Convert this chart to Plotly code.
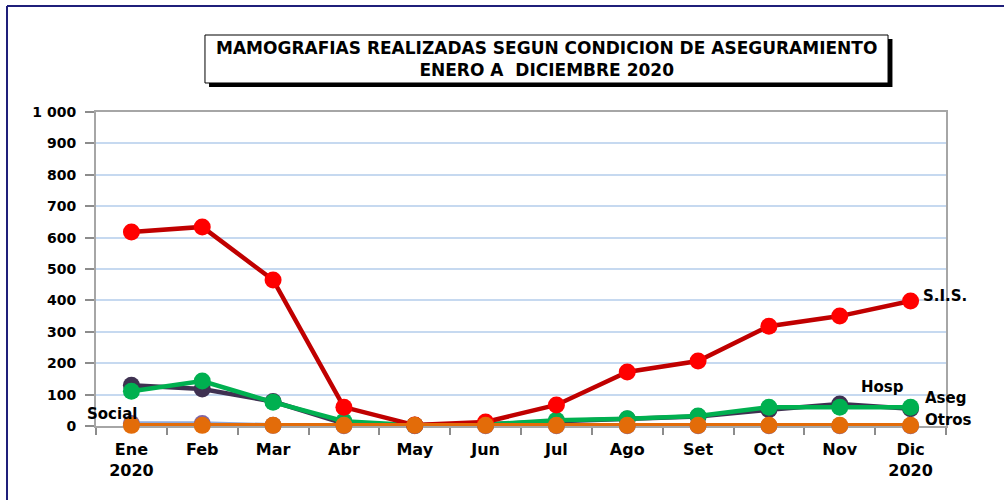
import plotly.graph_objects as go

months = ["Ene", "Feb", "Mar", "Abr", "May", "Jun", "Jul", "Ago", "Set", "Oct", "Nov", "Dic"]
month_labels = ["Ene<br>2020", "Feb", "Mar", "Abr", "May", "Jun", "Jul", "Ago", "Set", "Oct", "Nov", "Dic<br>2020"]
sis = [618, 634, 465, 60, 3, 13, 67, 172, 207, 318, 350, 398]
hosp = [130, 118, 78, 8, 2, 5, 15, 22, 30, 52, 70, 55]
aseg = [111, 143, 76, 15, 2, 5, 18, 23, 32, 60, 60, 60]
social = [8, 8, 2, 1, 1, 1, 1, 1, 1, 1, 1, 1]
otros = [2, 2, 2, 2, 2, 2, 2, 2, 2, 2, 2, 2]
y_ticks = [0, 100, 200, 300, 400, 500, 600, 700, 800, 900, 1000]
y_ticktext = ["0", "100", "200", "300", "400", "500", "600", "700", "800", "900", "1 000"]

FONT = "DejaVu Sans, Verdana, sans-serif"

series = [
    ("Hosp", hosp, "#3F3151", "#3F3151"),
    ("Aseg", aseg, "#00B050", "#00B050"),
    ("Social", social, "#8EA9DB", "#7F64A6"),
    ("S.I.S.", sis, "#C00000", "#FF0000"),
    ("Otros", otros, "#E36C09", "#E36C09"),
]

fig = go.Figure()
for name, vals, lc, mc in series:
    fig.add_trace(go.Scatter(
        x=months, y=vals, mode="lines+markers", name=name,
        line=dict(color=lc, width=4.5),
        marker=dict(color=mc, size=17, line=dict(width=0)),
        cliponaxis=False,
        showlegend=False,
    ))

fig.update_layout(
    width=1004, height=500,
    margin=dict(l=96, r=58, t=112, b=74),
    paper_bgcolor="white", plot_bgcolor="white",
    font=dict(family=FONT, color="black"),
    xaxis=dict(
        type="category", categoryorder="array", categoryarray=months,
        tickvals=months, ticktext=month_labels,
        tickson="boundaries", ticks="outside", ticklen=7, tickcolor="#8C8C8C", tickwidth=2,
        showgrid=False, showline=True, linecolor="#A6A6A6", linewidth=2, mirror=True,
        layer="below traces",
        tickfont=dict(family=FONT, size=16, color="black", weight="bold"),
        ticklabelstandoff=8,
        range=[-0.5, 11.5],
    ),
    yaxis=dict(
        range=[0, 1000], tickvals=y_ticks, ticktext=y_ticktext,
        ticks="outside", ticklen=9, tickcolor="#8C8C8C", tickwidth=2,
        showgrid=True, gridcolor="#C6D9F0", gridwidth=2,
        showline=True, linecolor="#A6A6A6", linewidth=2, mirror=True,
        layer="below traces",
        zeroline=False,
        ticklabelstandoff=6,
        tickfont=dict(family=FONT, size=14, color="black", weight="bold"),
    ),
)

# outer border (left & top)
fig.add_shape(type="line", xref="paper", yref="paper", x0=-0.1047, x1=-0.1047, y0=-0.3, y1=1.3376,
              line=dict(color="#1F1F7A", width=2))
fig.add_shape(type="line", xref="paper", yref="paper", x0=-0.1047, x1=1.1, y0=1.3376, y1=1.3376,
              line=dict(color="#1F1F7A", width=2))

# title box with shadow
fig.add_shape(type="rect", xref="paper", yref="paper", x0=0.1330, x1=0.9370, y0=1.0795, y1=1.2325,
              fillcolor="black", line=dict(width=0))
fig.add_shape(type="rect", xref="paper", yref="paper", x0=0.1282, x1=0.9318, y0=1.0924, y1=1.2452,
              fillcolor="white", line=dict(color="black", width=1))
fig.add_annotation(xref="paper", yref="paper", x=0.530, y=1.1688, showarrow=False,
                   text="<b>MAMOGRAFIAS REALIZADAS SEGUN CONDICION DE ASEGURAMIENTO<br>ENERO A  DICIEMBRE 2020</b>",
                   font=dict(family=FONT, size=17, color="black"),
                   align="center", xanchor="center", yanchor="middle")

# series labels
lab_font = dict(family=FONT, size=15, color="black", weight="bold")
fig.add_annotation(x="Dic", y=sis[-1], text="S.I.S.", showarrow=False, xanchor="left", xshift=10, yshift=5, font=lab_font)
fig.add_annotation(x="Nov", y=hosp[-2], text="Hosp", showarrow=False, xanchor="center", xshift=43, yshift=17, font=lab_font)
fig.add_annotation(x="Dic", y=aseg[-1], text="Aseg", showarrow=False, xanchor="left", xshift=12, yshift=9, font=lab_font)
fig.add_annotation(x="Dic", y=otros[-1], text="Otros", showarrow=False, xanchor="left", xshift=12, yshift=5, font=lab_font)
fig.add_annotation(x="Ene", y=social[0], text="Social", showarrow=False, xanchor="center", xshift=-19, yshift=9, font=lab_font)

fig.write_html("out.html", config={"displayModeBar": False},
               post_script="document.body.style.margin='0';document.body.style.overflow='hidden';")
